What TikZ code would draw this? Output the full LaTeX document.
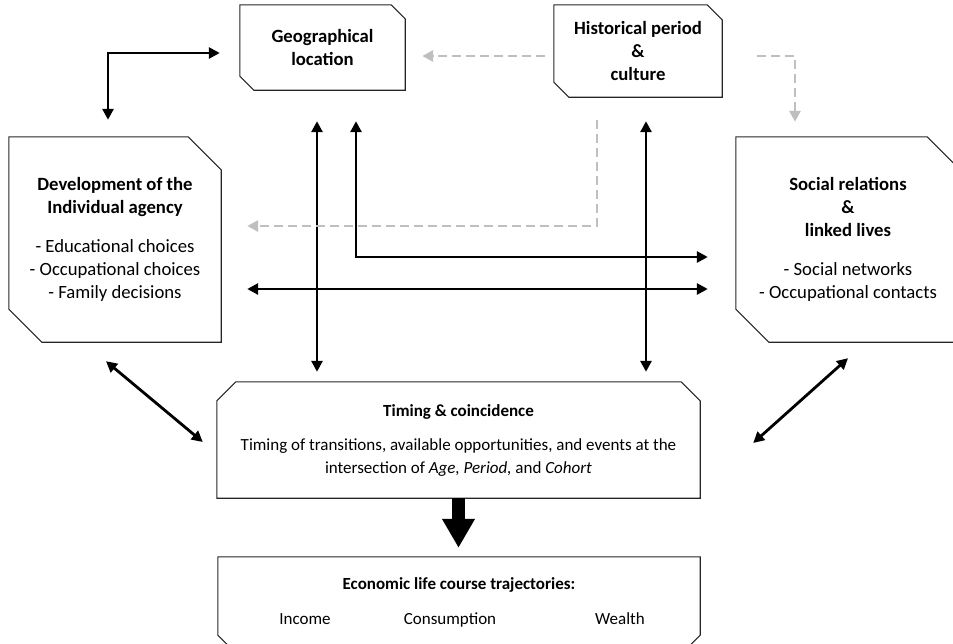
\documentclass[tikz,border=0pt]{standalone}
\usepackage{fontspec}
\setmainfont{Carlito}
\usepackage{xcolor}
\usetikzlibrary{arrows.meta}

\tikzset{
  box/.style={align=center, inner sep=0pt, font=\fontsize{17pt}{23pt}\selectfont},
  bigbox/.style={box, font=\fontsize{18.7pt}{23pt}\selectfont},
  outline/.style={draw=black!85, line width=1.1pt, line join=miter},
  link/.style={line width=2.8pt, >={Triangle[width=11pt,length=11pt]}, <->},
  hint/.style={gray!50, line width=2.8pt, dash pattern=on 9pt off 5pt, >={Triangle[width=11pt,length=11pt]}, ->},
}

\begin{document}
\begin{tikzpicture}[x=1pt, y=-1pt]
    \useasboundingbox (0,0) rectangle (953,643);

    % boxes
    \node[bigbox, minimum width=165pt, minimum height=85pt] (geo) at (322.5,47.5) {\textbf{Geographical}\\\textbf{location}};
    \node[bigbox, minimum width=168pt, minimum height=92pt] (hist) at (638,51) {\textbf{Historical period}\\\textbf{\&}\\\textbf{culture}};
    \node[bigbox, minimum width=212pt, minimum height=205pt] (dev) at (115,239.5) {\textbf{Development of the}\\\textbf{Individual agency}\\[16pt] - Educational choices\\ - Occupational choices\\ - Family decisions};
    \node[bigbox, minimum width=224pt, minimum height=205pt] (soc) at (848,239.5) {\textbf{Social relations}\\\textbf{\&}\\\textbf{linked lives}\\[16pt] - Social networks\\ - Occupational contacts};
    \node[box, minimum width=483pt, minimum height=116pt] (timing) at (458.5,440) {\textbf{Timing \& coincidence}\\[11pt] Timing of transitions, available opportunities, and events at the\\ intersection of \textit{Age, Period,} and \textit{Cohort}};
    \node[box, minimum width=482pt, minimum height=91pt] (econ) at (459,602.5) {};
    \node[box, anchor=base] (econtitle) at (459,589) {\textbf{Economic life course trajectories:}};
    \node[box, anchor=base] (income) at (305,624) {Income};
    \node[box, anchor=base] (cons) at (450,624) {Consumption};
    \node[box, anchor=base] (wealth) at (620,624) {Wealth};

    \foreach \n/\c in {geo/14, hist/15, dev/33, soc/33}
        \draw[outline] (\n.north west) -- ([xshift=-\c pt]\n.north east) -- ([yshift=-\c pt]\n.north east) -- (\n.south east) -- ([xshift=\c pt]\n.south west) -- ([yshift=\c pt]\n.south west) -- cycle;
    \draw[outline] ([yshift=-19pt]timing.north west) -- ([xshift=19pt]timing.north west) -- ([xshift=-19pt]timing.north east) -- ([yshift=-19pt]timing.north east) -- (timing.south east) -- (timing.south west) -- cycle;
    \draw[outline] (econ.north west) -- (econ.north east) -- ([yshift=13pt]econ.south east) -- ([xshift=-13pt]econ.south east) -- ([xshift=13pt]econ.south west) -- ([yshift=13pt]econ.south west) -- cycle;

    % columns and rows of the connectors
    \coordinate (colA) at (317,0);
    \coordinate (colB) at (356,0);
    \coordinate (colC) at (597,0);
    \coordinate (colD) at (646,0);
    \coordinate (colE) at (795,0);
    \coordinate (rowA) at (0,56);
    \coordinate (rowB) at (0,226);
    \coordinate (rowC) at (0,257);
    \coordinate (rowD) at (0,289);

    % black connectors
    \draw[link] ([xshift=-7pt,yshift=17pt]dev.north) |- ([xshift=-20pt,yshift=-5.5pt]geo.west);
    \draw[link, shorten <=31pt, shorten >=10pt] (geo.south -| colA) -- (timing.north -| colA);
    \draw[link, shorten <=31pt, shorten >=28pt] (geo.south -| colB) -- (rowC -| colB) -- (rowC -| soc.west);
    \draw[link, shorten <=26pt, shorten >=28pt] (rowD -| dev.east) -- (rowD -| soc.west);
    \draw[link, shorten <=24pt, shorten >=10pt] (hist.south -| colD) -- (timing.north -| colD);
    \draw[link] ([xshift=-9pt,yshift=-19pt]dev.south) -- ([xshift=-14pt,yshift=-2pt]timing.west);
    \draw[link] ([yshift=-16pt]soc.south) -- ([xshift=53pt,yshift=-3pt]timing.east);

    % grey dashed connectors
    \draw[hint, shorten <=9pt, shorten >=17pt] (hist.west |- rowA) -- (geo.east |- rowA);
    \draw[hint, shorten <=35pt, shorten >=15pt] (hist.east |- rowA) -| (soc.north -| colE);
    \draw[hint, shorten <=23pt, shorten >=26pt] (hist.south -| colC) -- (rowB -| colC) -- (rowB -| dev.east);

    % big arrow
    \draw[line width=13pt, -{Triangle[width=31pt,length=29pt]}, shorten >=9pt] (timing.south) -- (timing.south |- econ.north);
\end{tikzpicture}
\end{document}
